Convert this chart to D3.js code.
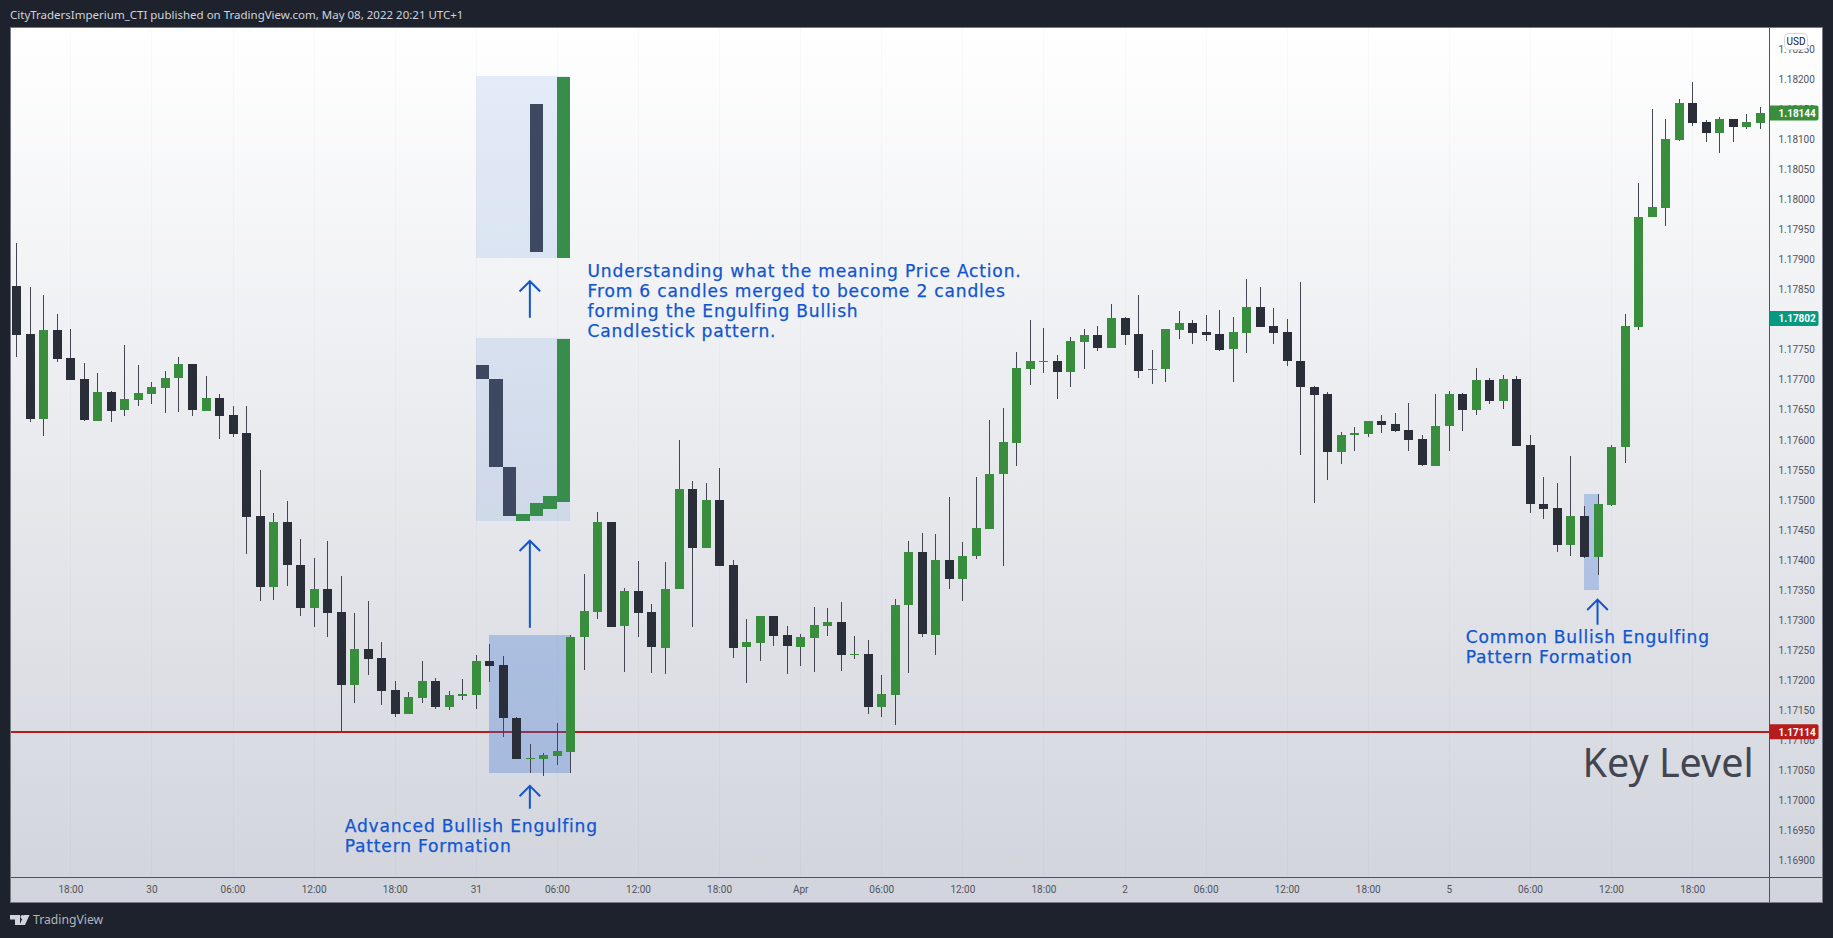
<!DOCTYPE html>
<html>
<head>
<meta charset="utf-8">
<title>Bullish engulfing</title>
<script src="https://cdnjs.cloudflare.com/ajax/libs/d3/7.8.5/d3.min.js"></script>
<style>
  html, body { margin: 0; padding: 0; background: #1e222d; overflow: hidden; }
  svg { display: block; }
</style>
</head>
<body>
<div id="chart"></div>
<script>
// hourly candles, 29 Mar 14:00 to 5 Apr 23:00 (weekend skipped)
const opens = [1.17856,1.17776,1.17635,1.17783,1.17736,1.17701,1.17632,1.17680,1.17649,1.17667,
  1.17677,1.17687,1.17702,1.17726,1.17649,1.17670,1.17641,1.17611,1.17473,1.17354,
  1.17463,1.17392,1.17321,1.17352,1.17313,1.17192,1.17252,1.17237,1.17184,1.17144,
  1.17171,1.17199,1.17155,1.17174,1.17176,1.17232,1.17225,1.17137,1.17069,1.17069,
  1.17074,1.17080,1.17271,1.17313,1.17463,1.17289,1.17348,1.17313,1.17254,1.17351,
  1.17518,1.17420,1.17500,1.17392,1.17254,1.17262,1.17307,1.17275,1.17256,1.17271,
  1.17291,1.17297,1.17242,1.17244,1.17156,1.17176,1.17324,1.17413,1.17276,1.17400,
  1.17369,1.17406,1.17452,1.17542,1.17595,1.17718,1.17730,1.17731,1.17713,1.17763,
  1.17774,1.17753,1.17803,1.17776,1.17716,1.17717,1.17783,1.17794,1.17779,1.17776,
  1.17750,1.17778,1.17821,1.17789,1.17779,1.17731,1.17688,1.17676,1.17579,1.17607,
  1.17610,1.17631,1.17626,1.17616,1.17601,1.17557,1.17622,1.17676,1.17650,1.17700,
  1.17665,1.17701,1.17591,1.17493,1.17487,1.17425,1.17473,1.17405,1.17492,1.17587,
  1.17788,1.17970,1.17986,1.18100,1.18161,1.18129,1.18110,1.18134,1.18121,1.18128];

const closes = [1.17775,1.17635,1.17783,1.17735,1.17700,1.17632,1.17680,1.17649,1.17668,1.17678,
  1.17688,1.17703,1.17726,1.17649,1.17670,1.17640,1.17610,1.17472,1.17354,1.17463,
  1.17391,1.17321,1.17352,1.17312,1.17192,1.17252,1.17236,1.17182,1.17144,1.17172,
  1.17199,1.17155,1.17175,1.17177,1.17232,1.17224,1.17136,1.17069,1.17070,1.17075,
  1.17082,1.17272,1.17315,1.17463,1.17289,1.17348,1.17312,1.17254,1.17352,1.17518,
  1.17420,1.17500,1.17390,1.17254,1.17263,1.17307,1.17274,1.17256,1.17272,1.17292,
  1.17297,1.17242,1.17244,1.17156,1.17177,1.17325,1.17413,1.17276,1.17400,1.17369,
  1.17407,1.17453,1.17543,1.17596,1.17720,1.17731,1.17731,1.17713,1.17764,1.17774,
  1.17753,1.17803,1.17775,1.17715,1.17718,1.17784,1.17794,1.17778,1.17774,1.17750,
  1.17779,1.17821,1.17788,1.17778,1.17730,1.17687,1.17675,1.17579,1.17608,1.17611,
  1.17631,1.17625,1.17615,1.17600,1.17557,1.17623,1.17676,1.17650,1.17700,1.17665,
  1.17701,1.17590,1.17492,1.17485,1.17425,1.17473,1.17405,1.17493,1.17588,1.17789,
  1.17971,1.17987,1.18101,1.18161,1.18128,1.18110,1.18134,1.18121,1.18129,1.18144];

const highs = [1.17927,1.17854,1.17841,1.17810,1.17784,1.17727,1.17711,1.17681,1.17757,1.17724,
  1.17696,1.17714,1.17737,1.17726,1.17707,1.17677,1.17656,1.17656,1.17550,1.17478,
  1.17498,1.17435,1.17403,1.17432,1.17374,1.17311,1.17331,1.17263,1.17199,1.17180,
  1.17232,1.17204,1.17182,1.17202,1.17241,1.17260,1.17240,1.17139,1.17094,1.17079,
  1.17129,1.17275,1.17377,1.17480,1.17463,1.17354,1.17398,1.17327,1.17397,1.17600,
  1.17531,1.17528,1.17553,1.17400,1.17302,1.17307,1.17307,1.17290,1.17277,1.17322,
  1.17320,1.17330,1.17273,1.17267,1.17209,1.17335,1.17432,1.17445,1.17443,1.17505,
  1.17430,1.17538,1.17633,1.17653,1.17746,1.17799,1.17786,1.17741,1.17771,1.17784,
  1.17789,1.17826,1.17804,1.17841,1.17750,1.17784,1.17814,1.17799,1.17808,1.17816,
  1.17804,1.17868,1.17854,1.17819,1.17801,1.17863,1.17690,1.17680,1.17613,1.17621,
  1.17631,1.17641,1.17645,1.17661,1.17608,1.17676,1.17681,1.17678,1.17720,1.17703,
  1.17708,1.17706,1.17608,1.17538,1.17528,1.17573,1.17490,1.17510,1.17591,1.17809,
  1.18027,1.18151,1.18134,1.18167,1.18196,1.18132,1.18138,1.18134,1.18142,1.18154];

const lows = [1.17737,1.17629,1.17607,1.17730,1.17700,1.17632,1.17632,1.17630,1.17640,1.17657,
  1.17660,1.17644,1.17647,1.17639,1.17649,1.17602,1.17605,1.17410,1.17331,1.17333,
  1.17357,1.17306,1.17289,1.17272,1.17114,1.17162,1.17209,1.17159,1.17139,1.17144,
  1.17162,1.17152,1.17151,1.17167,1.17152,1.17197,1.17106,1.17069,1.17046,1.17041,
  1.17058,1.17046,1.17217,1.17302,1.17289,1.17214,1.17271,1.17212,1.17211,1.17351,
  1.17289,1.17420,1.17390,1.17237,1.17196,1.17232,1.17257,1.17211,1.17224,1.17214,
  1.17274,1.17216,1.17236,1.17144,1.17138,1.17126,1.17212,1.17271,1.17242,1.17352,
  1.17331,1.17401,1.17452,1.17390,1.17557,1.17692,1.17712,1.17668,1.17688,1.17718,
  1.17748,1.17753,1.17758,1.17703,1.17693,1.17697,1.17767,1.17760,1.17765,1.17747,
  1.17697,1.17745,1.17788,1.17760,1.17722,1.17575,1.17494,1.17533,1.17560,1.17582,
  1.17605,1.17612,1.17613,1.17582,1.17557,1.17557,1.17582,1.17615,1.17642,1.17659,
  1.17652,1.17590,1.17478,1.17468,1.17414,1.17407,1.17404,1.17375,1.17489,1.17562,
  1.17782,1.17970,1.17956,1.18098,1.18123,1.18095,1.18078,1.18096,1.18118,1.18118];

const priceTicks = [1.169,1.1695,1.17,1.1705,1.171,1.1715,1.172,1.1725,1.173,1.1735,1.174,1.1745,1.175,1.1755,
  1.176,1.1765,1.177,1.1775,1.178,1.1785,1.179,1.1795,1.18,1.1805,1.181,1.1815,1.182,1.1825];

const timeTickBars = [4,10,16,22,28,34,40,46,52,58,64,70,76,82,88,94,100,106,112,118,124];
const timeTickLabels = ["18:00","30","06:00","12:00","18:00","31","06:00","12:00","18:00","Apr",
  "06:00","12:00","18:00","2","06:00","12:00","18:00","5","06:00","12:00","18:00"];

const keyLevel = 1.17114;
const lastPrice = 1.18144;
const otherPrice = 1.17802;

// merged-candle sketches above the pattern: [first bar, last bar, low, high]
const upperCopy = [[38, 39, 1.17913, 1.18159, "down"], [40, 41, 1.17903, 1.18204, "up"]];
const middleCopy = [[34, 35, 1.17701, 1.17724, "down"], [35, 36, 1.17555, 1.17701, "down"],
  [36, 37, 1.17473, 1.17555, "down"], [37, 38, 1.17465, 1.17476, "up"],
  [38, 39, 1.17473, 1.17495, "up"], [39, 40, 1.17485, 1.17506, "up"], [40, 41, 1.17496, 1.17768, "up"]];

// boxes: [first bar, last bar, low, high, opacity]
const boxes = [[34, 41, 1.17903, 1.18205, 0.12], [34, 41, 1.17465, 1.17769, 0.12],
  [35, 41, 1.17045, 1.17275, 0.3], [116, 117.1, 1.1735, 1.1751, 0.3]];

// arrows: [bar, tail price, tip price]
const arrows = [[38, 1.17803, 1.17864], [38, 1.17287, 1.17432], [38, 1.16986, 1.17024], [117, 1.17292, 1.17334]];

const width = 1833, height = 938;
const panel = { left: 10, top: 27, right: 1822, bottom: 902 };
const axisX = 1769.5, axisY = 877.5;
const green = "#388e3c", dark = "#2a2e39", blue = "#1155d0";
const bodyWidth = 9;

const svg = d3.select("#chart").append("svg")
  .attr("width", width)
  .attr("height", height)
  .attr("viewBox", [0, 0, width, height]);

const x = d3.scaleLinear().domain([0, 129]).range([16.3, 1759.7]);
const y = d3.scaleLinear().domain([1.182, 1.17]).range([79.3, 800.3]);

const grad = svg.append("defs").append("linearGradient")
  .attr("id", "bg").attr("x1", 0).attr("y1", 0).attr("x2", 0).attr("y2", 1);
grad.append("stop").attr("offset", "0%").attr("stop-color", "#ffffff");
grad.append("stop").attr("offset", "100%").attr("stop-color", "#d1d4dc");

svg.append("rect")
  .attr("x", panel.left + 0.5).attr("y", panel.top + 0.5)
  .attr("width", panel.right - panel.left).attr("height", panel.bottom - panel.top)
  .attr("fill", "url(#bg)")
  .attr("stroke", "#787b86");

// faint vertical grid
svg.append("g").selectAll("line")
  .data(timeTickBars)
  .join("line")
  .attr("x1", d => Math.round(x(d)) + 0.5)
  .attr("x2", d => Math.round(x(d)) + 0.5)
  .attr("y1", panel.top + 1)
  .attr("y2", axisY)
  .attr("stroke", "#2a2e39")
  .attr("stroke-opacity", 0.025);

// key level
svg.append("line")
  .attr("x1", panel.left + 1).attr("x2", axisX)
  .attr("y1", y(keyLevel)).attr("y2", y(keyLevel))
  .attr("stroke", "#b71c1c")
  .attr("stroke-width", 2)
  .attr("shape-rendering", "crispEdges");

// highlight boxes
svg.append("g").selectAll("rect")
  .data(boxes)
  .join("rect")
  .attr("x", d => x(d[0]))
  .attr("width", d => x(d[1]) - x(d[0]))
  .attr("y", d => y(d[3]))
  .attr("height", d => y(d[2]) - y(d[3]))
  .attr("fill", "#3570d4")
  .attr("fill-opacity", d => d[4])
  .attr("shape-rendering", "crispEdges");

// sketches of the merged candles
svg.append("g").selectAll("rect")
  .data(upperCopy.concat(middleCopy))
  .join("rect")
  .attr("x", d => x(d[0]))
  .attr("width", d => x(d[1]) - x(d[0]))
  .attr("y", d => y(d[3]))
  .attr("height", d => y(d[2]) - y(d[3]))
  .attr("fill", d => d[4] == "up" ? "#388c4c" : "#3e4860")
  .attr("shape-rendering", "crispEdges");

// candles
const candles = svg.append("g").selectAll("g")
  .data(d3.range(opens.length))
  .join("g");

candles.append("line")
  .attr("x1", i => Math.round(x(i)) + 0.5)
  .attr("x2", i => Math.round(x(i)) + 0.5)
  .attr("y1", i => y(highs[i]))
  .attr("y2", i => y(lows[i]))
  .attr("stroke", "#434651")
  .attr("shape-rendering", "crispEdges");

candles.append("rect")
  .attr("x", i => Math.round(x(i)) - 4)
  .attr("width", bodyWidth)
  .attr("y", i => Math.round(y(Math.max(opens[i], closes[i]))))
  .attr("height", i => Math.max(1, Math.round(Math.abs(y(opens[i]) - y(closes[i])))))
  .attr("fill", i => closes[i] >= opens[i] ? green : dark)
  .attr("shape-rendering", "crispEdges");

// arrows
svg.append("g").selectAll("path")
  .data(arrows)
  .join("path")
  .attr("d", d => {
    const ax = x(d[0]), tail = y(d[1]), tip = y(d[2]);
    return `M${ax},${tail}L${ax},${tip}M${ax - 10.3},${tip + 10.3}L${ax},${tip}L${ax + 10.3},${tip + 10.3}`;
  })
  .attr("fill", "none")
  .attr("stroke", blue)
  .attr("stroke-width", 2);

// notes: lines of text at a bar and a baseline price
function note(lines, bar, price) {
  svg.append("g").selectAll("text")
    .data(lines)
    .join("text")
    .attr("x", x(bar))
    .attr("y", (d, i) => y(price) + i * 20)
    .attr("fill", blue)
    .attr("stroke", blue)
    .attr("stroke-width", 0.25)
    .attr("font-family", "'DejaVu Sans', sans-serif")
    .attr("font-size", 17.1)
    .attr("letter-spacing", 0.8)
    .text(d => d);
}

note(["Understanding what the meaning Price Action.",
  "From 6 candles merged to become 2 candles",
  "forming the Engulfing Bullish",
  "Candlestick pattern."], 42.27, 1.17871);
note(["Advanced Bullish Engulfing", "Pattern Formation"], 24.3, 1.16947);
note(["Common Bullish Engulfing", "Pattern Formation"], 107.25, 1.17261);

svg.append("text")
  .attr("x", x(128.55))
  .attr("y", y(1.17038))
  .attr("text-anchor", "end")
  .attr("fill", "#434651")
  .attr("font-family", "'Noto Sans', sans-serif")
  .attr("font-size", 39.5)
  .text("Key Level");

// axes
const priceAxis = svg.append("g")
  .attr("transform", `translate(${axisX},0)`)
  .call(d3.axisRight(y).tickValues(priceTicks).tickFormat(d3.format(".5f")).tickSize(0).tickPadding(9));
priceAxis.select(".domain").remove();
priceAxis.selectAll("text")
  .attr("fill", "#50535e")
  .attr("font-family", "Roboto, sans-serif")
  .attr("font-size", 10);

const timeAxis = svg.append("g")
  .attr("transform", `translate(0,${axisY})`)
  .call(d3.axisBottom(x).tickValues(timeTickBars).tickFormat((d, i) => timeTickLabels[i]).tickSize(0).tickPadding(8));
timeAxis.select(".domain").remove();
timeAxis.selectAll("text")
  .attr("fill", "#50535e")
  .attr("font-family", "Roboto, sans-serif")
  .attr("font-size", 10);

svg.append("line")
  .attr("x1", axisX).attr("x2", axisX)
  .attr("y1", panel.top + 1).attr("y2", panel.bottom)
  .attr("stroke", "#50535e");
svg.append("line")
  .attr("x1", panel.left + 1).attr("x2", panel.right)
  .attr("y1", axisY).attr("y2", axisY)
  .attr("stroke", "#50535e");

// price labels on the axis
const priceLabels = [[lastPrice, "#388e3c"], [otherPrice, "#089981"], [keyLevel, "#b71c1c"]];
const labels = svg.append("g").selectAll("g")
  .data(priceLabels)
  .join("g")
  .attr("transform", d => `translate(${axisX},${y(d[0])})`);
labels.append("path")
  .attr("d", "M0,-7.5H47a2,2 0 0 1 2,2V5.5a2,2 0 0 1 -2,2H0Z")
  .attr("fill", d => d[1]);
labels.append("text")
  .attr("x", 9)
  .attr("y", 3.7)
  .attr("fill", "#ffffff")
  .attr("font-family", "Roboto, sans-serif")
  .attr("font-size", 10)
  .attr("font-weight", 700)
  .text(d => d[0].toFixed(5));

// currency badge
svg.append("rect")
  .attr("x", 1784.5).attr("y", 33.5).attr("width", 23).attr("height", 16).attr("rx", 4)
  .attr("fill", "#ffffff").attr("stroke", "#d6d8e0");
svg.append("text")
  .attr("x", 1796).attr("y", 45)
  .attr("text-anchor", "middle")
  .attr("fill", "#131722")
  .attr("font-family", "Roboto, sans-serif")
  .attr("font-size", 10)
  .text("USD");

// header and footer
svg.append("text")
  .attr("x", 10).attr("y", 19)
  .attr("fill", "#d1d4dc")
  .attr("font-family", "'Noto Sans', sans-serif")
  .attr("font-size", 11.5)
  .text("CityTradersImperium_CTI published on TradingView.com, May 08, 2022 20:21 UTC+1");

svg.append("path")
  .attr("d", "M10,915H20V925H15V919.5H10Z M24.5,917a2,2 0 1 1 -4,0a2,2 0 1 1 4,0Z M24,915H29.5L25,925H19.5Z")
  .attr("fill", "#d1d4dc");
svg.append("text")
  .attr("x", 33).attr("y", 924)
  .attr("fill", "#b2b5be")
  .attr("font-family", "'Noto Sans', sans-serif")
  .attr("font-size", 12.2)
  .text("TradingView");
</script>
</body>
</html>
